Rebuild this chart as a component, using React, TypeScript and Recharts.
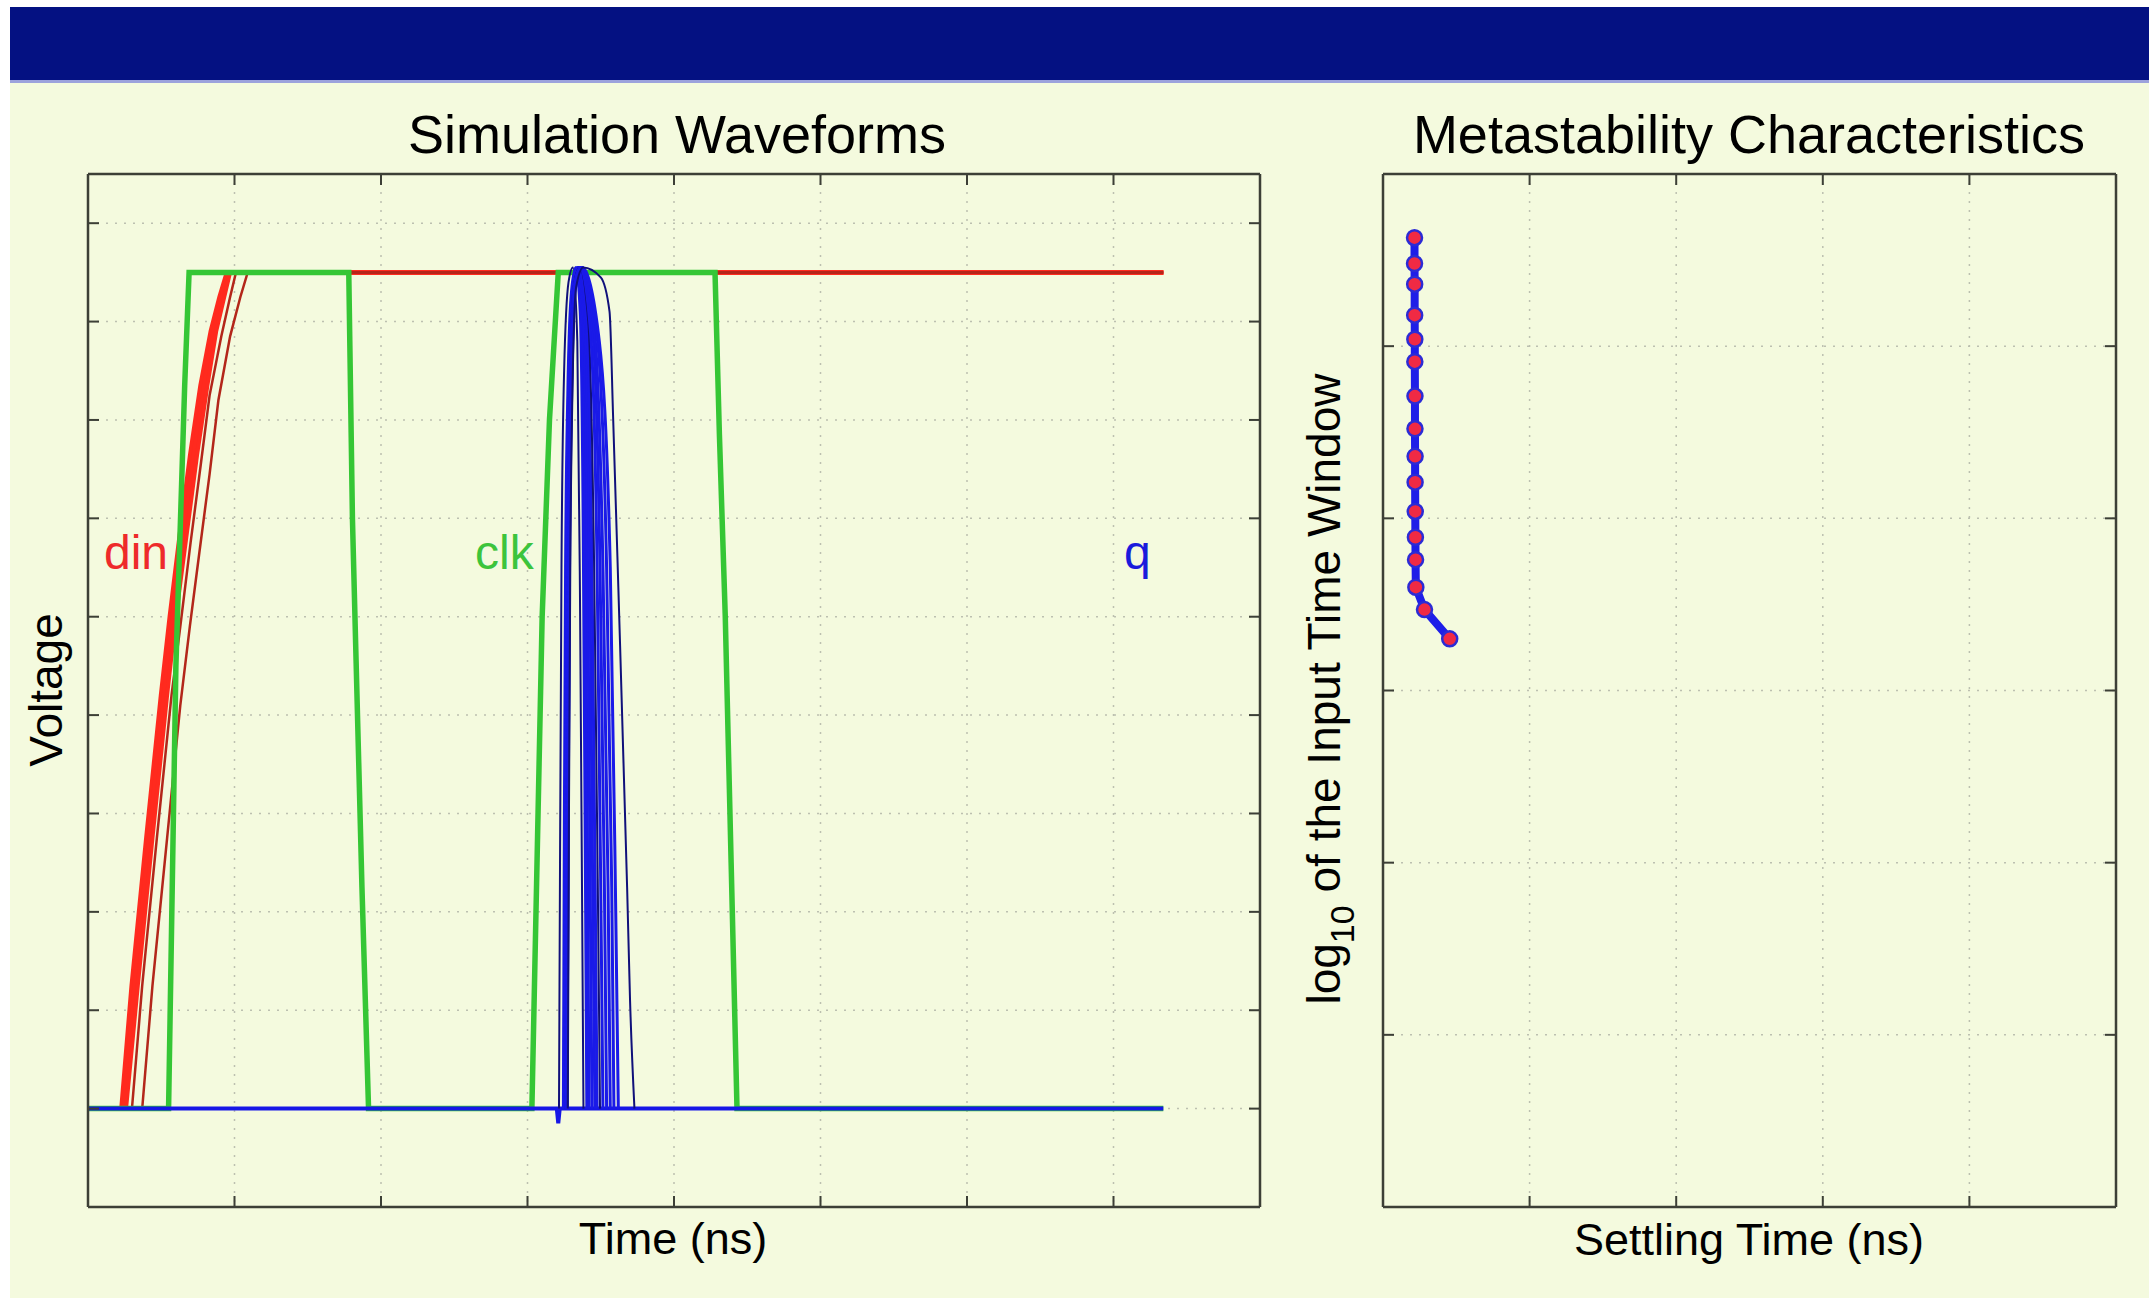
import { LineChart, Line, XAxis, YAxis, CartesianGrid } from "recharts";

// axis ticks (no tick labels are shown in the original)
const timeTicks = [0, 1, 2, 3, 4, 5, 6, 7, 8];
const voltTicks = [-0.2, 0, 0.2, 0.4, 0.6, 0.8, 1.0, 1.2, 1.4, 1.6, 1.8];
const settleTicks = [0, 1, 2, 3, 4, 5];
const windowTicks = [-14, -13, -12, -11, -10, -9, -8];

// din traces, [time ns, volts]
const dinA = [[0, 0], [0.23, 0], [0.3, 0.25], [0.4, 0.55], [0.5, 0.84], [0.56, 1.0], [0.63, 1.17], [0.7, 1.33], [0.77, 1.47], [0.84, 1.58], [0.9, 1.65], [0.95, 1.7], [7.34, 1.7]];
const dinB = [[0, 0], [0.245, 0], [0.32, 0.25], [0.42, 0.55], [0.52, 0.84], [0.58, 1.0], [0.655, 1.17], [0.725, 1.33], [0.795, 1.47], [0.86, 1.58], [0.915, 1.65], [0.96, 1.7], [7.34, 1.7]];
const dinC = [[0, 0], [0.26, 0], [0.34, 0.25], [0.44, 0.55], [0.54, 0.84], [0.6, 1.0], [0.675, 1.17], [0.745, 1.33], [0.815, 1.47], [0.875, 1.58], [0.93, 1.65], [0.97, 1.7], [7.34, 1.7]];
const dinD = [[0, 0], [0.3, 0], [0.37, 0.25], [0.47, 0.55], [0.57, 0.84], [0.63, 0.98], [0.7, 1.15], [0.77, 1.31], [0.83, 1.45], [0.91, 1.57], [0.97, 1.65], [1.01, 1.7], [7.34, 1.7]];
const dinE = [[0, 0], [0.37, 0], [0.44, 0.25], [0.54, 0.55], [0.63, 0.82], [0.695, 0.98], [0.76, 1.13], [0.83, 1.29], [0.89, 1.44], [0.97, 1.57], [1.04, 1.65], [1.09, 1.7], [7.34, 1.7]];

// clock
const clk = [[0, 0], [0.55, 0], [0.6, 0.9], [0.66, 1.47], [0.69, 1.7], [1.78, 1.7], [1.805, 1.2], [1.83, 0.91], [1.87, 0.45], [1.915, 0], [3.03, 0], [3.1, 1.0], [3.15, 1.4], [3.21, 1.7], [4.28, 1.7], [4.31, 1.37], [4.35, 1.0], [4.39, 0.5], [4.43, 0], [7.34, 0]];

// q output: low baseline with glitch, then the family of pulses
const qBase = [[0, 0], [3.2, 0], [3.21, -0.03], [3.22, 0], [7.34, 0]];
const qPulses = [
  [[3.215, 0], [3.222, 0.5], [3.232, 1.1], [3.25, 1.5], [3.28, 1.68], [3.31, 1.71], [3.34, 1.56], [3.358, 1.05], [3.372, 0.45], [3.382, 0]],
  [[3.245, 0], [3.252, 0.6], [3.26, 1.1], [3.275, 1.45], [3.3, 1.66], [3.33, 1.71], [3.36, 1.62], [3.38, 1.2], [3.395, 0.5], [3.405, 0]],
  [[3.25, 0], [3.258, 0.6], [3.266, 1.1], [3.28, 1.45], [3.305, 1.66], [3.34, 1.71], [3.375, 1.6], [3.395, 1.15], [3.41, 0.5], [3.42, 0]],
  [[3.25, 0], [3.258, 0.6], [3.267, 1.1], [3.282, 1.46], [3.31, 1.67], [3.345, 1.71], [3.385, 1.6], [3.41, 1.1], [3.428, 0.45], [3.44, 0]],
  [[3.255, 0], [3.263, 0.6], [3.272, 1.1], [3.287, 1.46], [3.312, 1.67], [3.35, 1.71], [3.395, 1.6], [3.425, 1.1], [3.445, 0.45], [3.46, 0]],
  [[3.255, 0], [3.262, 0.6], [3.27, 1.1], [3.285, 1.46], [3.31, 1.67], [3.35, 1.71], [3.405, 1.6], [3.44, 1.1], [3.462, 0.45], [3.475, 0]],
  [[3.26, 0], [3.268, 0.6], [3.276, 1.1], [3.29, 1.46], [3.315, 1.67], [3.355, 1.71], [3.415, 1.6], [3.455, 1.1], [3.48, 0.45], [3.495, 0]],
  [[3.26, 0], [3.267, 0.6], [3.275, 1.1], [3.29, 1.46], [3.318, 1.67], [3.36, 1.71], [3.43, 1.58], [3.475, 1.1], [3.5, 0.45], [3.515, 0]],
  [[3.265, 0], [3.272, 0.6], [3.28, 1.1], [3.295, 1.46], [3.32, 1.67], [3.365, 1.71], [3.445, 1.58], [3.495, 1.1], [3.525, 0.45], [3.54, 0]],
  [[3.265, 0], [3.273, 0.6], [3.282, 1.1], [3.297, 1.46], [3.322, 1.67], [3.37, 1.71], [3.46, 1.57], [3.515, 1.1], [3.55, 0.45], [3.565, 0]],
  [[3.27, 0], [3.277, 0.6], [3.285, 1.1], [3.3, 1.46], [3.325, 1.67], [3.37, 1.71], [3.475, 1.57], [3.54, 1.1], [3.575, 0.45], [3.59, 0]],
  [[3.27, 0], [3.278, 0.6], [3.287, 1.1], [3.302, 1.46], [3.328, 1.67], [3.375, 1.71], [3.49, 1.56], [3.565, 1.1], [3.6, 0.45], [3.62, 0]],
  [[3.275, 0], [3.283, 0.6], [3.292, 1.1], [3.307, 1.46], [3.332, 1.67], [3.38, 1.71], [3.5, 1.69], [3.56, 1.62], [3.585, 1.4], [3.62, 1.06], [3.68, 0.45], [3.7, 0.22], [3.73, 0]],
];
const thinPulses = [0, 6, 12];

// metastability curve
const settleTime = [0.215, 0.215, 0.216, 0.216, 0.217, 0.217, 0.218, 0.218, 0.219, 0.219, 0.22, 0.221, 0.222, 0.224, 0.283, 0.455];
const logWindow = [-8.37, -8.52, -8.64, -8.82, -8.96, -9.09, -9.29, -9.48, -9.64, -9.79, -9.96, -10.11, -10.24, -10.4, -10.53, -10.7];

const toPts = (pairs: number[][]) => pairs.map(([t, v]) => ({ t, v }));
const metaData = settleTime.map((s, i) => ({ s, w: logWindow[i] }));

const BG = "#f4fade";
const AXIS = "#3c3f36";
const GRID = "#bcc0b0";
const FONT = "'Liberation Sans', Arial, Helvetica, sans-serif";

const noLabel = () => "";

function MetaDot(props: any) {
  const { cx, cy } = props;
  if (cx == null || cy == null) return <g />;
  return <circle cx={cx} cy={cy} r={7.5} fill="#f02a44" stroke="#2b2bd6" strokeWidth={2.5} />;
}

export default function App() {
  const axisCommon = {
    stroke: AXIS,
    axisLine: { stroke: AXIS, strokeWidth: 2.5 },
    tickLine: { stroke: AXIS, strokeWidth: 2 },
    tickSize: 11,
    mirror: true,
    tickFormatter: noLabel,
    allowDataOverflow: true,
  };

  return (
    <div style={{ position: "absolute", left: 0, top: 0, width: 2149, height: 1298, background: "#ffffff", overflow: "hidden" }}>
      <div style={{ position: "absolute", left: 10, top: 7, right: 0, bottom: 0, background: BG }} />
      <div style={{ position: "absolute", left: 10, top: 7, width: 2139, height: 73, background: "#041182" }} />
      <div style={{ position: "absolute", left: 10, top: 80, width: 2139, height: 3, background: "#9ca2dc" }} />

      <div style={{ position: "absolute", left: 0, top: 0 }}>
        <LineChart width={1300} height={1298} margin={{ top: 174, right: 40, bottom: 91, left: 88 }}>
          <CartesianGrid stroke={GRID} strokeWidth={1.5} strokeDasharray="2 7" />
          <XAxis type="number" dataKey="t" domain={[0, 8]} ticks={timeTicks} height={1} orientation="bottom" {...axisCommon} />
          <XAxis xAxisId="top" type="number" dataKey="t" domain={[0, 8]} ticks={timeTicks} height={1} orientation="top" {...axisCommon} />
          <YAxis type="number" domain={[-0.2, 1.9]} ticks={voltTicks} width={1} orientation="left" {...axisCommon} />
          <YAxis yAxisId="right" type="number" domain={[-0.2, 1.9]} ticks={voltTicks} width={1} orientation="right" {...axisCommon} />

          <Line data={toPts(dinA)} dataKey="v" type="linear" stroke="#ff2a1e" strokeWidth={5} dot={false} isAnimationActive={false} />
          <Line data={toPts(dinB)} dataKey="v" type="linear" stroke="#ff2a1e" strokeWidth={5} dot={false} isAnimationActive={false} />
          <Line data={toPts(dinC)} dataKey="v" type="linear" stroke="#ff2a1e" strokeWidth={4} dot={false} isAnimationActive={false} />
          <Line data={toPts(dinD)} dataKey="v" type="linear" stroke="#b3261a" strokeWidth={2.5} dot={false} isAnimationActive={false} />
          <Line data={toPts(dinE)} dataKey="v" type="linear" stroke="#b3261a" strokeWidth={2.5} dot={false} isAnimationActive={false} />

          <Line data={toPts(clk)} dataKey="v" type="linear" stroke="#35c635" strokeWidth={5.5} dot={false} isAnimationActive={false} />

          <Line data={toPts(qBase)} dataKey="v" type="linear" stroke="#1616e6" strokeWidth={4} dot={false} isAnimationActive={false} />
          {qPulses.map((p, i) => (
            <Line
              key={"q" + i}
              data={toPts(p)}
              dataKey="v"
              type="monotone"
              stroke={thinPulses.includes(i) ? "#10107a" : "#1a1ae8"}
              strokeWidth={thinPulses.includes(i) ? 2 : 3}
              dot={false}
              isAnimationActive={false}
            />
          ))}
        </LineChart>
      </div>

      <div style={{ position: "absolute", left: 1300, top: 0 }}>
        <LineChart width={849} height={1298} margin={{ top: 174, right: 33, bottom: 91, left: 83 }}>
          <CartesianGrid stroke={GRID} strokeWidth={1.5} strokeDasharray="2 7" />
          <XAxis type="number" dataKey="s" domain={[0, 5]} ticks={settleTicks} height={1} orientation="bottom" {...axisCommon} />
          <XAxis xAxisId="top" type="number" dataKey="s" domain={[0, 5]} ticks={settleTicks} height={1} orientation="top" {...axisCommon} />
          <YAxis type="number" domain={[-14, -8]} ticks={windowTicks} width={1} orientation="left" {...axisCommon} />
          <YAxis yAxisId="right" type="number" domain={[-14, -8]} ticks={windowTicks} width={1} orientation="right" {...axisCommon} />
          <Line data={metaData} dataKey="w" type="linear" stroke="#1e1ee8" strokeWidth={8} dot={<MetaDot />} isAnimationActive={false} />
        </LineChart>
      </div>

      <svg width={2149} height={1298} style={{ position: "absolute", left: 0, top: 0, pointerEvents: "none" }} fontFamily={FONT}>
        <text x={677} y={153} fontSize={54} textAnchor="middle" fill="#000">Simulation Waveforms</text>
        <text x={1749} y={153} fontSize={54} textAnchor="middle" fill="#000">Metastability Characteristics</text>
        <text x={673} y={1254} fontSize={45} textAnchor="middle" fill="#000">Time (ns)</text>
        <text x={1749} y={1255} fontSize={45} textAnchor="middle" fill="#000">Settling Time (ns)</text>
        <text x={62} y={690} fontSize={46} textAnchor="middle" fill="#000" transform="rotate(-90 62 690)">Voltage</text>
        <text x={1340} y={689} fontSize={46} textAnchor="middle" fill="#000" transform="rotate(-90 1340 689)">
          log<tspan fontSize={34} dy={14}>10</tspan>
          <tspan dy={-14}> of the Input Time Window</tspan>
        </text>
        <text x={104} y={569} fontSize={48} fill="#ee2a2a">din</text>
        <text x={475} y={569} fontSize={48} fill="#3cc43c">clk</text>
        <text x={1124} y={569} fontSize={48} fill="#1a1adc">q</text>
      </svg>
    </div>
  );
}
